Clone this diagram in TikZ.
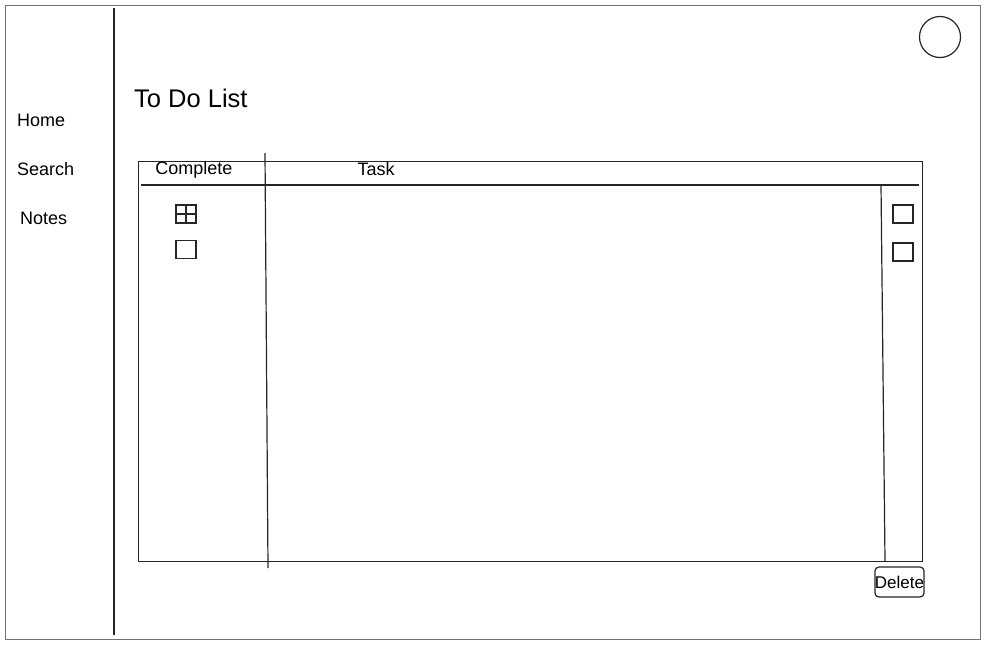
\documentclass[tikz,border=0pt]{standalone}
\usepackage{fontspec}
\setmainfont{Liberation Sans}
\begin{document}
\begin{tikzpicture}[x=1pt,y=-1pt,
  line/.style={draw=black!85,line width=1.2pt},
  lbl/.style={font=\fontsize{18}{20}\selectfont,inner sep=0pt,anchor=west},
  cbox/.style={draw=black!85,line width=1.2pt,minimum width=20pt,minimum height=18pt,inner sep=0pt},
]
\useasboundingbox (0,0) rectangle (987,648);
% outer frame
\node[draw=black!55,line width=1.2pt,minimum width=975pt,minimum height=634pt,inner sep=0pt,anchor=north west] (frame) at (5,5) {};
% sidebar
\coordinate (sbt) at (114,8);
\coordinate (sbb) at (114,635);
\draw[line] (sbt) -- (sbb);
\node[lbl] (home) at (17,120) {Home};
\node[lbl] (search) at (17,169) {Search};
\node[lbl] (notes) at (20,218) {Notes};
% title
\node[font=\fontsize{25.5}{28}\selectfont,inner sep=0pt,anchor=west] (title) at (134,98) {To Do List};
% avatar
\node[draw=black!85,line width=1.2pt,circle,minimum size=41pt,inner sep=0pt] (avatar) at (940,37) {};
% table
\node[line,minimum width=784pt,minimum height=400pt,inner sep=0pt,anchor=north west] (table) at (138,161) {};
\coordinate (hl) at (141,185);
\coordinate (hr) at (919,185);
\draw[line] (hl) -- (hr);
\coordinate (c1t) at (265,153);
\coordinate (c1b) at (268,568);
\draw[line] (c1t) -- (c1b);
\coordinate (c2t) at (881,185);
\coordinate (c2b) at (885,561);
\draw[line] (c2t) -- (c2b);
\node[lbl,anchor=center] (complete) at (194,170) {Complete};
\node[lbl,anchor=center] (task) at (376,169.5) {Task};
% checkboxes
\node[cbox] (cb1) at (186,214) {};
\draw[line] (cb1.north) -- (cb1.south);
\draw[line] (cb1.west) -- (cb1.east);
\node[cbox] (cb2) at (186,249.5) {};
\node[cbox] (db1) at (903,214) {};
\node[cbox] (db2) at (903,252) {};
% delete button
\node[draw=black!85,line width=1.2pt,rounded corners=4pt,minimum width=47pt,minimum height=30pt,inner sep=0pt,font=\fontsize{17}{19}\selectfont] (delete) at (899.5,582) {Delete};
\end{tikzpicture}
\end{document}
